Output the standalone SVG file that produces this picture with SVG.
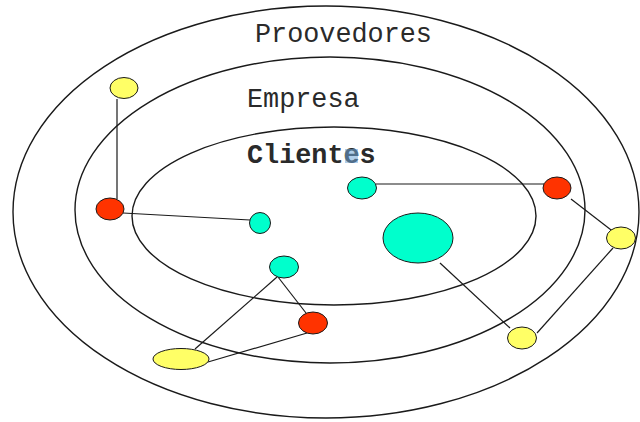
<svg xmlns="http://www.w3.org/2000/svg" width="640" height="422" viewBox="0 0 640 422">
<style>
.ring{fill:none;stroke:#1a1a1a;stroke-width:1.4}
.edge{stroke:#1a1a1a;stroke-width:1.2;fill:none}
.n{stroke:#1a1a1a;stroke-width:1}
.y{fill:#FFFF66}
.r{fill:#FF3300}
.c{fill:#00FFCC}
.lbl{font-family:"Liberation Mono","Courier New",monospace;font-size:26.8px;fill:#2a2a2a}
</style>
<rect width="640" height="422" fill="#ffffff"/>
<g id="rings">
<ellipse class="ring" cx="326" cy="212" rx="313" ry="206"/>
<ellipse class="ring" cx="330" cy="210" rx="255" ry="153"/>
<ellipse class="ring" cx="334" cy="216" rx="202" ry="89"/>
</g>
<g id="labels">
<text class="lbl" x="255" y="42">Proovedores</text>
<text class="lbl" x="247" y="107">Empresa</text>
<text class="lbl" x="247" y="163" font-weight="bold">Clientes</text>
<rect x="345" y="149" width="13" height="14" fill="#6fa6d8" fill-opacity="0.55"/>
</g>
<g id="connectors">
<line class="edge" x1="117" y1="99" x2="117" y2="199"/>
<line class="edge" x1="123" y1="213" x2="250" y2="220"/>
<line class="edge" x1="376" y1="184" x2="544" y2="184"/>
<line class="edge" x1="571" y1="199" x2="615" y2="233"/>
<line class="edge" x1="613" y1="248" x2="537" y2="333"/>
<line class="edge" x1="440" y1="263" x2="510" y2="328"/>
<line class="edge" x1="277" y1="277" x2="195" y2="349"/>
<line class="edge" x1="278" y1="277" x2="306" y2="313"/>
<line class="edge" x1="307" y1="333" x2="208" y2="362"/>
</g>
<g id="n-yellow-topleft"><ellipse class="n y" cx="124" cy="88" rx="14" ry="10.5"/></g>
<g id="n-red-left"><ellipse class="n r" cx="110" cy="209" rx="14" ry="11"/></g>
<g id="n-cyan-left"><ellipse class="n c" cx="260" cy="223" rx="10.5" ry="10.5"/></g>
<g id="n-cyan-top"><ellipse class="n c" cx="362" cy="188" rx="14.5" ry="11"/></g>
<g id="n-red-right"><ellipse class="n r" cx="557" cy="188" rx="14" ry="11"/></g>
<g id="n-cyan-big"><ellipse class="n c" cx="418" cy="238" rx="35" ry="25"/></g>
<g id="n-yellow-right"><ellipse class="n y" cx="621" cy="238" rx="14.5" ry="11"/></g>
<g id="n-yellow-bottomright"><ellipse class="n y" cx="522" cy="338" rx="14.5" ry="11"/></g>
<g id="n-cyan-bottom"><ellipse class="n c" cx="284" cy="267" rx="14.5" ry="11"/></g>
<g id="n-red-bottom"><ellipse class="n r" cx="313" cy="323" rx="14.5" ry="11"/></g>
<g id="n-yellow-bottomleft"><ellipse class="n y" cx="181" cy="359" rx="28" ry="10.5"/></g>
</svg>
